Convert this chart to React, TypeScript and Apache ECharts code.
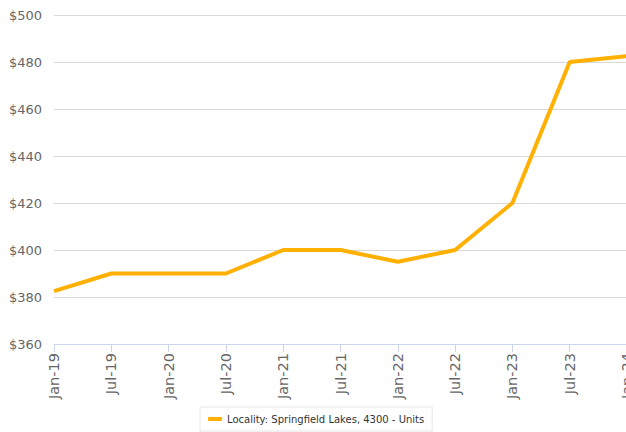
import React, { useEffect, useRef } from "react";
import * as echarts from "echarts";

const categories = ["Jan-19", "Jul-19", "Jan-20", "Jul-20", "Jan-21", "Jul-21", "Jan-22", "Jul-22", "Jan-23", "Jul-23", "Jan-24"];
const seriesName = "Locality: Springfield Lakes, 4300 - Units";
const values = [382.5, 390, 390, 390, 400, 400, 395, 400, 420, 480, 482.5];

export default function App() {
  const ref = useRef<HTMLDivElement>(null);
  useEffect(() => {
    document.body.style.margin = "0";
    const chart = echarts.init(ref.current!, null, { renderer: "svg" });
    chart.setOption({
      animation: false,
      textStyle: { fontFamily: "DejaVu Sans" },
      grid: { left: 54, right: -1, top: 15, bottom: 88, containLabel: false, outerBoundsMode: "none" },
      legend: {
        top: 407,
        left: 200,
        padding: [7, 8, 7, 8],
        borderColor: "#e6e6e6",
        borderWidth: 1,
        itemWidth: 14,
        itemHeight: 4,
        itemGap: 6,
        icon: "roundRect",
        textStyle: { fontSize: 10, color: "#333" },
        data: [seriesName],
      },
      xAxis: {
        type: "category",
        data: categories,
        boundaryGap: false,
        axisLine: { lineStyle: { color: "#ccd6eb", width: 1 } },
        axisTick: { show: true, length: 8, lineStyle: { color: "#ccd6eb" }, alignWithLabel: true },
        axisLabel: { rotate: 90, fontSize: 14.5, color: "#666", margin: 9, interval: 0 },
        splitLine: { show: false },
      },
      yAxis: {
        type: "value",
        min: 360,
        max: 500,
        interval: 20,
        axisLine: { show: false },
        axisTick: { show: false },
        axisLabel: { fontSize: 13, color: "#666", margin: 12, formatter: (v: number) => "$" + v },
        splitLine: { lineStyle: { color: "#d9d9d9", width: 1 } },
      },
      series: [
        {
          name: seriesName,
          type: "line",
          data: values,
          symbol: "none",
          lineStyle: { color: "#ffb000", width: 4 },
          itemStyle: { color: "#ffb000" },
        },
      ],
    });
    return () => chart.dispose();
  }, []);
  return <div ref={ref} style={{ position: "absolute", left: 0, top: 0, width: 626, height: 432 }} />;
}
